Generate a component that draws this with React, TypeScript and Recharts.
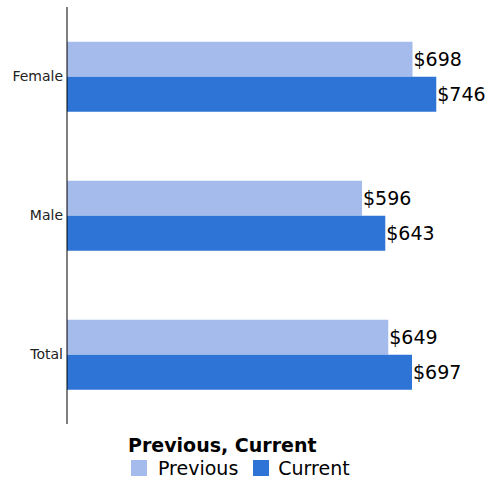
import React from 'react';
import { BarChart, Bar, XAxis, YAxis, Legend, LabelList } from 'recharts';

const categories = ['Female', 'Male', 'Total'];
const previousValues = [698, 596, 649];
const currentValues = [746, 643, 697];

const PREV_COLOR = '#a4bbec';
const CURR_COLOR = '#2e74d6';
const FONT = '"DejaVu Sans", Verdana, sans-serif';

const data = categories.map((name, i) => ({
    name,
    previous: previousValues[i],
    current: currentValues[i],
}));

const money = (v: any) => `$${v}`;

const LegendBox = () => (
    <div style={{ position: 'relative', width: 487, height: 56, fontFamily: FONT }}>
        <div style={{ position: 'absolute', left: 128, top: 10, fontSize: 19, fontWeight: 'bold', color: '#000', whiteSpace: 'nowrap' }}>
            Previous, Current
        </div>
        <div style={{ position: 'absolute', left: 131, top: 33, display: 'flex', alignItems: 'center', fontSize: 19, color: '#000', whiteSpace: 'nowrap' }}>
            <span style={{ display: 'inline-block', width: 16, height: 16, background: PREV_COLOR, marginRight: 11 }} />
            <span style={{ marginRight: 15 }}>Previous</span>
            <span style={{ display: 'inline-block', width: 16, height: 16, background: CURR_COLOR, marginRight: 9 }} />
            <span>Current</span>
        </div>
    </div>
);

const App: React.FC = () => {
    return (
        <div style={{ position: 'absolute', top: 0, left: 0, width: 487, height: 480, overflow: 'hidden' }}>
            <BarChart
                width={487}
                height={480}
                data={data}
                layout="vertical"
                margin={{ top: 7, right: 24, left: 0, bottom: 0 }}
                barCategoryGap="25%"
                barGap={0}
            >
                <XAxis type="number" domain={[0, 800]} hide />
                <YAxis
                    dataKey="name"
                    type="category"
                    width={67}
                    tickLine={false}
                    tickSize={0}
                    axisLine={{ stroke: '#000', strokeWidth: 1 }}
                    tick={{ fontSize: 14, fill: '#222', fontFamily: FONT }}
                    tickMargin={4}
                />
                <Legend verticalAlign="bottom" height={56} content={() => <LegendBox />} wrapperStyle={{ left: 0, width: 487 }} />
                <Bar dataKey="previous" name="Previous" fill={PREV_COLOR} isAnimationActive={false}>
                    <LabelList dataKey="previous" position="right" offset={1} formatter={money}
                        style={{ fontSize: 19, fill: '#000', fontFamily: FONT }} />
                </Bar>
                <Bar dataKey="current" name="Current" fill={CURR_COLOR} isAnimationActive={false}>
                    <LabelList dataKey="current" position="right" offset={1} formatter={money}
                        style={{ fontSize: 19, fill: '#000', fontFamily: FONT }} />
                </Bar>
            </BarChart>
        </div>
    );
};

export default App;
